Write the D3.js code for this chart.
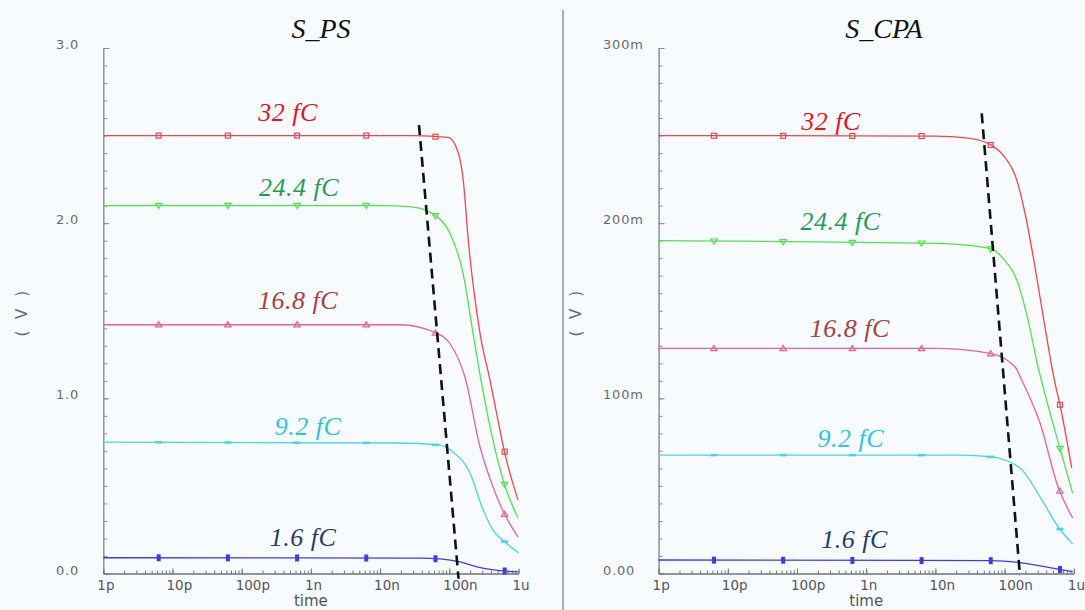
<!DOCTYPE html>
<html>
<head>
<meta charset="utf-8">
<script src="https://cdn.jsdelivr.net/npm/d3@7/dist/d3.min.js"></script>
<style>
  html, body { margin: 0; padding: 0; background: #f7fbfd; }
  svg { display: block; }
</style>
</head>
<body>
<svg id="chart" width="1085" height="610"></svg>
<script>
// ---------------- DATA ----------------
const seriesNames = ["32 fC", "24.4 fC", "16.8 fC", "9.2 fC", "1.6 fC"];

const xTickValues = [1e-12, 1e-11, 1e-10, 1e-9, 1e-8, 1e-7, 1e-6];
const xTickLabels = ["1p", "10p", "100p", "1n", "10n", "100n", "1u"];

const psYTickValues = [0, 1, 2, 3];
const psYTickLabels = ["0.0", "1.0", "2.0", "3.0"];
const cpaYTickValues = [0, 0.1, 0.2, 0.3];
const cpaYTickLabels = ["0.00", "100m", "200m", "300m"];

const markerTimes = [6.31e-12, 6.31e-11, 6.31e-10, 6.31e-9, 6.31e-8, 6.31e-7];

// S_PS series: [time (s), voltage (V)]
const ps32 = [[1e-12,2.50],[3e-8,2.50],[9.68e-8,2.49],[1.35e-7,2.40],[1.59e-7,2.246],[1.88e-7,1.904],[2.78e-7,1.371],[3.87e-7,1.104],[6.59e-7,0.659],[9.84e-7,0.419]];
const ps24 = [[1e-12,2.10],[1e-8,2.10],[2.99e-8,2.092],[6.42e-8,2.041],[1.02e-7,1.943],[1.58e-7,1.715],[2.20e-7,1.373],[2.87e-7,1.104],[6.38e-7,0.499],[9.84e-7,0.317]];
const ps16 = [[1e-12,1.42],[1.94e-8,1.42],[6.21e-8,1.376],[1.02e-7,1.313],[1.69e-7,1.119],[2.78e-7,0.722],[4.28e-7,0.494],[6.38e-7,0.334],[9.84e-7,0.208]];
const ps9  = [[1e-12,0.75],[1.70e-8,0.745],[7.35e-8,0.733],[1.13e-7,0.693],[1.99e-7,0.574],[2.97e-7,0.380],[4.28e-7,0.248],[6.38e-7,0.180],[1e-6,0.117]];
const ps1  = [[1e-12,0.090],[3.78e-8,0.088],[7.35e-8,0.083],[1.43e-7,0.066],[2.60e-7,0.037],[6.38e-7,0.014],[9.84e-7,0.009]];

// S_CPA series: [time (s), voltage (V)]
const cpa32 = [[1e-12,0.250],[9.87e-9,0.2497],[2.96e-8,0.2486],[6.15e-8,0.2450],[9.48e-8,0.2389],[1.50e-7,0.2246],[1.97e-7,0.2058],[2.75e-7,0.1749],[3.83e-7,0.1407],[5.35e-7,0.1087],[6.32e-7,0.0962],[9.33e-7,0.0602]];
const cpa24 = [[1e-12,0.190],[9.87e-9,0.1885],[6.15e-8,0.1856],[9.48e-8,0.1799],[1.50e-7,0.1675],[2.18e-7,0.1447],[3.04e-7,0.1180],[3.83e-7,0.1025],[6.11e-7,0.0733],[9.64e-7,0.0459]];
const cpa16 = [[1e-12,0.1285],[9.87e-9,0.1285],[6.15e-8,0.1257],[1.41e-7,0.1180],[1.77e-7,0.1104],[3.25e-7,0.0859],[5.92e-7,0.0495],[9.64e-7,0.0317]];
const cpa9  = [[1e-12,0.0676],[2.26e-8,0.0676],[6.15e-8,0.0667],[1.67e-7,0.0602],[3.25e-7,0.0438],[5.92e-7,0.0267],[9.64e-7,0.0168]];
const cpa1  = [[1e-12,0.0077],[6.30e-8,0.0073],[1.67e-7,0.0062],[6.11e-7,0.0024],[9.64e-7,0.0010]];

// dashed guide lines
const psDash = [[3.65e-8,2.56],[1.36e-7,-0.03]];
const cpaDash = [[4.67e-8,0.2627],[1.67e-7,-0.0014]];

// label anchor positions in data units
const psLabelPos = [[4.67e-10,2.583],[6.73e-10,2.155],[6.5e-10,1.51],[9.1e-10,0.79],[7.7e-10,0.157]];
const cpaLabelPos = [[3.1e-10,0.2531],[4.25e-10,0.196],[5.8e-10,0.1352],[6.0e-10,0.0722],[6.8e-10,0.0147]];

// ---------------- STYLE ----------------
const lineColors  = ["#f0464f", "#4fe24f", "#e462a0", "#48d6e2", "#3d3de6"];
const labelColors = ["#e8121e", "#1f9e55", "#a8423e", "#2ec5d8", "#283c6e"];
const markerKinds = ["square", "tridown", "triup", "dash", "bar"];

const svg = d3.select("#chart");
svg.append("rect").attr("width", 1085).attr("height", 610).attr("fill", "#f7fbfd");

// separator
svg.append("line").attr("x1", 563).attr("x2", 563).attr("y1", 10).attr("y2", 610)
  .attr("stroke", "#a9aeb2").attr("stroke-width", 2);

const tickFont = "'DejaVu Sans', Inter, sans-serif";

function drawPanel(cfg) {
  const x = d3.scaleLog().domain([1e-12, 1e-6]).range(cfg.xRange);
  const y = d3.scaleLinear().domain(cfg.yDomain).range([573.5, 48]);
  const g = svg.append("g");

  // y minor ticks
  const yStep = cfg.yDomain[1] / 30;
  const yMinor = d3.range(0, 31).map(i => +(i * yStep).toFixed(6));
  g.append("g").attr("transform", `translate(${cfg.xRange[0]},0)`)
    .call(d3.axisRight(y).tickValues(yMinor).tickSize(4).tickSizeOuter(0).tickFormat(""))
    .call(s => s.selectAll("line,path").attr("stroke", "#8a8f93"));
  g.append("g").attr("transform", `translate(${cfg.xRange[0]},0)`)
    .call(d3.axisRight(y).tickValues(cfg.yTicks).tickSize(6).tickSizeOuter(0).tickFormat(""))
    .call(s => s.selectAll("line,path").attr("stroke", "#8a8f93"));

  // x minor ticks
  const xMinor = [];
  for (let e = -12; e < -6; e++) for (let m = 1; m <= 9; m++) xMinor.push(m * Math.pow(10, e));
  xMinor.push(1e-6);
  g.append("g").attr("transform", `translate(0,${y(0)})`)
    .call(d3.axisTop(x).tickValues(xMinor).tickSize(3).tickSizeOuter(0).tickFormat(""))
    .call(s => s.selectAll("line,path").attr("stroke", "#6f7377"));
  g.append("g").attr("transform", `translate(0,${y(0)})`)
    .call(d3.axisTop(x).tickValues(xTickValues).tickSize(5).tickSizeOuter(0).tickFormat(""))
    .call(s => s.selectAll("line,path").attr("stroke", "#6f7377"));

  // y tick labels
  g.selectAll(".ylab").data(cfg.yTicks).enter().append("text")
    .attr("x", cfg.yLabelX).attr("y", d => y(d) + 1)
    .attr("font-family", tickFont).attr("font-size", 13).attr("letter-spacing", 0.8)
    .attr("fill", "#6b6b6b")
    .text((d, i) => cfg.yLabels[i]);

  // x tick labels
  g.selectAll(".xlab").data(xTickValues).enter().append("text")
    .attr("x", d => x(d) - 6).attr("y", 590)
    .attr("font-family", tickFont).attr("font-size", 13.5)
    .attr("fill", "#555")
    .text((d, i) => xTickLabels[i]);

  // axis titles
  const xm = (cfg.xRange[0] + cfg.xRange[1]) / 2;
  g.append("text").attr("x", xm).attr("y", 606).attr("text-anchor", "middle")
    .attr("font-family", tickFont).attr("font-size", 15).attr("fill", "#555").text("time");
  g.append("text").attr("transform", `translate(${cfg.vLabelX},312) rotate(-90)`)
    .attr("text-anchor", "middle").attr("dominant-baseline", "middle")
    .attr("font-family", tickFont).attr("font-size", 15).attr("letter-spacing", 3.5)
    .attr("fill", "#6b6b6b").text("( V )");

  // title
  g.append("text").attr("x", cfg.titleX).attr("y", 38).attr("text-anchor", "middle")
    .attr("font-family", "'Liberation Serif', 'Times New Roman', serif")
    .attr("font-style", "italic").attr("font-size", 28).attr("fill", "#111")
    .text(cfg.title);

  const line = d3.line().x(d => x(d[0])).y(d => y(d[1])).curve(d3.curveMonotoneX);
  const straight = d3.line().x(d => x(d[0])).y(d => y(d[1]));

  cfg.series.forEach((s, i) => {
    g.append("path").datum(s).attr("d", line).attr("fill", "none")
      .attr("stroke", lineColors[i]).attr("stroke-width", 1.3);
  });

  // markers, placed on each curve
  function valAt(s, t) {
    const lt = Math.log10(t);
    for (let k = 0; k < s.length - 1; k++) {
      const a = Math.log10(s[k][0]), b = Math.log10(s[k + 1][0]);
      if (lt >= a && lt <= b) return s[k][1] + (s[k + 1][1] - s[k][1]) * (lt - a) / (b - a);
    }
    return s[s.length - 1][1];
  }
  cfg.series.forEach((s, i) => {
    const c = lineColors[i];
    markerTimes.forEach(t => {
      const px = x(t), py = y(valAt(s, t));
      const kind = markerKinds[i];
      if (kind === "square") {
        g.append("rect").attr("x", px - 2.5).attr("y", py - 2.5).attr("width", 5).attr("height", 5)
          .attr("fill", "none").attr("stroke", c).attr("stroke-width", 1.2);
      } else if (kind === "tridown") {
        g.append("path").attr("d", `M${px-3.2},${py-2.2}L${px+3.2},${py-2.2}L${px},${py+3}Z`)
          .attr("fill", "none").attr("stroke", c).attr("stroke-width", 1.2);
      } else if (kind === "triup") {
        g.append("path").attr("d", `M${px-3.2},${py+2.2}L${px+3.2},${py+2.2}L${px},${py-3}Z`)
          .attr("fill", "none").attr("stroke", c).attr("stroke-width", 1.2);
      } else if (kind === "dash") {
        g.append("rect").attr("x", px - 3.5).attr("y", py - 1.3).attr("width", 7).attr("height", 2.6)
          .attr("fill", c);
      } else {
        g.append("rect").attr("x", px - 2).attr("y", py - 3.5).attr("width", 4).attr("height", 7)
          .attr("fill", c);
      }
    });
  });

  // dashed guide
  g.append("path").datum(cfg.dash).attr("d", straight).attr("fill", "none")
    .attr("stroke", "#111").attr("stroke-width", 2.6).attr("stroke-dasharray", "10,6");

  // series labels
  cfg.labelPos.forEach((p, i) => {
    g.append("text").attr("x", x(p[0])).attr("y", y(p[1])).attr("text-anchor", "middle")
      .attr("font-family", "'Liberation Serif', 'Times New Roman', serif")
      .attr("font-style", "italic").attr("font-size", 26).attr("letter-spacing", 0.5)
      .attr("fill", labelColors[i]).text(seriesNames[i]);
  });
}

drawPanel({
  title: "S_PS", titleX: 321,
  xRange: [103.3, 518.5], yDomain: [0, 3],
  yTicks: psYTickValues, yLabels: psYTickLabels, yLabelX: 56,
  vLabelX: 22,
  series: [ps32, ps24, ps16, ps9, ps1],
  dash: psDash, labelPos: psLabelPos
});
drawPanel({
  title: "S_CPA", titleX: 884,
  xRange: [658.6, 1073.8], yDomain: [0, 0.3],
  yTicks: cpaYTickValues, yLabels: cpaYTickLabels, yLabelX: 603,
  vLabelX: 576,
  series: [cpa32, cpa24, cpa16, cpa9, cpa1],
  dash: cpaDash, labelPos: cpaLabelPos
});
</script>
</body>
</html>
